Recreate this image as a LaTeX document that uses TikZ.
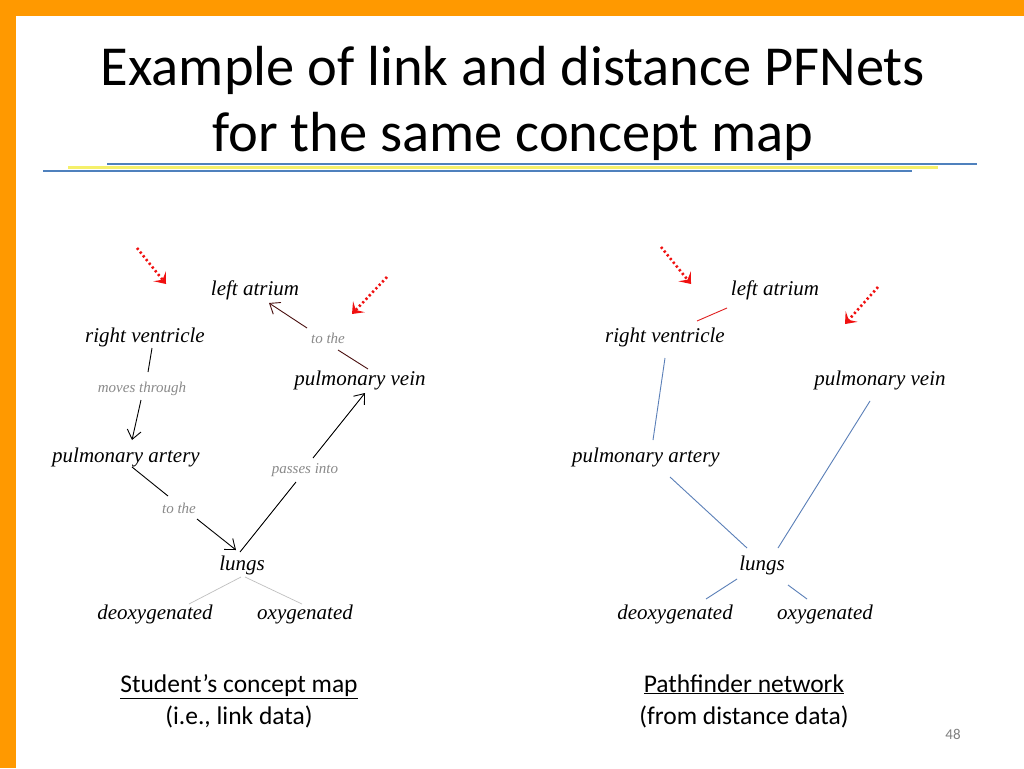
\documentclass[tikz,border=0pt]{standalone}
\usepackage{fontspec}
\setmainfont{Carlito}
\newfontfamily\nodefont{Liberation Serif}
\usetikzlibrary{arrows.meta,calc}
\definecolor{slideorange}{HTML}{FF9900}
\definecolor{lineblue}{HTML}{4F81BD}
\definecolor{lineyellow}{HTML}{F5F06A}
\definecolor{linkgray}{HTML}{8A8A8A}
\definecolor{maroonline}{HTML}{4A1010}
\definecolor{pfblue}{HTML}{5A7FB8}
\definecolor{pfred}{HTML}{E02020}
\definecolor{markred}{HTML}{F01010}
\tikzset{
  x=1pt, y=-1pt,
  concept/.style={font=\nodefont\itshape\fontsize{21}{24}\selectfont, inner sep=1pt},
  linklabel/.style={font=\nodefont\itshape\fontsize{15}{17}\selectfont, text=linkgray, inner sep=0pt},
  cmline/.style={draw=black, line width=0.9pt},
  cmarrow/.style={cmline, -{Straight Barb[length=9pt,width=14pt,line width=0.9pt]}},
  pfline/.style={draw=pfblue, line width=0.9pt},
  marker/.style={draw=markred, line width=2.6pt, dash pattern=on 2.2pt off 2.6pt,
     -{Stealth[length=10pt,width=16pt,inset=4.5pt]}},
  caption/.style={font=\fontsize{25.5}{32}\selectfont, inner sep=0pt, align=center}
}
\begin{document}
\begin{tikzpicture}
\useasboundingbox (0,0) rectangle (1024,768);
\fill[white] (0,0) rectangle (1024,768);
% orange frame
\fill[slideorange] (0,0) rectangle (1024,16);
\fill[slideorange] (0,0) rectangle (16,768);
% title
\node[font=\fontsize{56.5}{66}\selectfont, align=center, inner sep=0pt] (title) at (513,103)
  {Example of link and distance PFNets\\for the same concept map};
% rule lines under title
\draw[lineblue, line width=2.2pt] (107,164) -- (977,164);
\draw[lineyellow, line width=3pt] (68,167.5) -- (938,167.5);
\draw[lineblue, line width=2.2pt] (43,171) -- (912,171);

% ---------- left: student's concept map ----------
\node[concept] (la) at (255,290) {left atrium};
\node[concept] (rv) at (145,337) {right ventricle};
\node[concept] (pv) at (360,380) {pulmonary vein};
\node[concept] (pa) at (126,457) {pulmonary artery};
\node[concept] (lu) at (242,565) {lungs};
\node[concept] (de) at (155,614) {deoxygenated};
\node[concept] (ox) at (305,614) {oxygenated};
\node[linklabel] (t1) at (328,338) {to the};
\node[linklabel] (mt) at (142,389) {moves through};
\node[linklabel] (pi) at (305,470) {passes into};
\node[linklabel] (t2) at (179,508) {to the};

\draw[cmline] ($(rv)+(7,11)$) -- ($(mt)+(6,-17)$);
\draw[cmarrow] ($(mt)+(-1,11)$) -- ($(pa)+(6,-17)$);
\draw[cmline, draw=maroonline] ($(pv)+(8,-11)$) -- ($(t1)+(10,12)$);
\draw[cmarrow, draw=maroonline] ($(t1)+(-21,-10)$) -- ($(la)+(14,13)$);
\draw[cmline] ($(pa)+(6,10)$) -- ($(t2)+(-11,-12)$);
\draw[cmarrow] ($(t2)+(18,11)$) -- ($(lu)+(-6,-15)$);
\draw[cmline] ($(lu)+(-2,-13)$) -- ($(pi)+(-9,12)$);
\draw[cmarrow] ($(pi)+(8,-12)$) -- ($(pv)+(5,13)$);
\draw[draw=black!25, line width=0.7pt] ($(lu)+(-1,12)$) -- ($(de)+(34,-10)$);
\draw[draw=black!25, line width=0.7pt] ($(lu)+(3,12)$) -- ($(ox)+(-3,-10)$);

% ---------- right: Pathfinder network ----------
\node[concept] (la2) at (775,290) {left atrium};
\node[concept] (rv2) at (665,337) {right ventricle};
\node[concept] (pv2) at (880,380) {pulmonary vein};
\node[concept] (pa2) at (646,457) {pulmonary artery};
\node[concept] (lu2) at (762,565) {lungs};
\node[concept] (de2) at (675,614) {deoxygenated};
\node[concept] (ox2) at (825,614) {oxygenated};

\draw[draw=pfred, line width=0.9pt] ($(la2)+(-48,18)$) -- ($(rv2)+(32,-16)$);
\draw[pfline] ($(rv2)+(0,21)$) -- ($(pa2)+(7,-17)$);
\draw[pfline] ($(pv2)+(-10,21)$) -- ($(lu2)+(16,-17)$);
\draw[pfline] ($(pa2)+(24,20)$) -- ($(lu2)+(-15,-17)$);
\draw[pfline] ($(lu2)+(-25,14)$) -- ($(de2)+(31,-15)$);
\draw[pfline] ($(lu2)+(26,20)$) -- ($(ox2)+(-18,-15)$);

% ---------- red dotted markers ----------
\coordinate (m1s) at (137,248); \coordinate (m1e) at (166,284);
\coordinate (m2s) at (387,277); \coordinate (m2e) at (352,314);
\coordinate (m3s) at (661,247); \coordinate (m3e) at (691,284);
\coordinate (m4s) at (878,287); \coordinate (m4e) at (845,324);
\draw[marker] (m1s) -- (m1e);
\draw[marker] (m2s) -- (m2e);
\draw[marker] (m3s) -- (m3e);
\draw[marker] (m4s) -- (m4e);

% ---------- captions ----------
\node[caption] (cap1) at (239,701) {\underline{Student’s concept map}\\(i.e., link data)};
\node[caption] (cap2) at (744,701) {\underline{Pathfinder network}\\(from distance data)};
\node[font=\fontsize{15}{17}\selectfont, text=black!50, inner sep=0pt] (pg) at (953,734) {48};
\end{tikzpicture}
\end{document}
